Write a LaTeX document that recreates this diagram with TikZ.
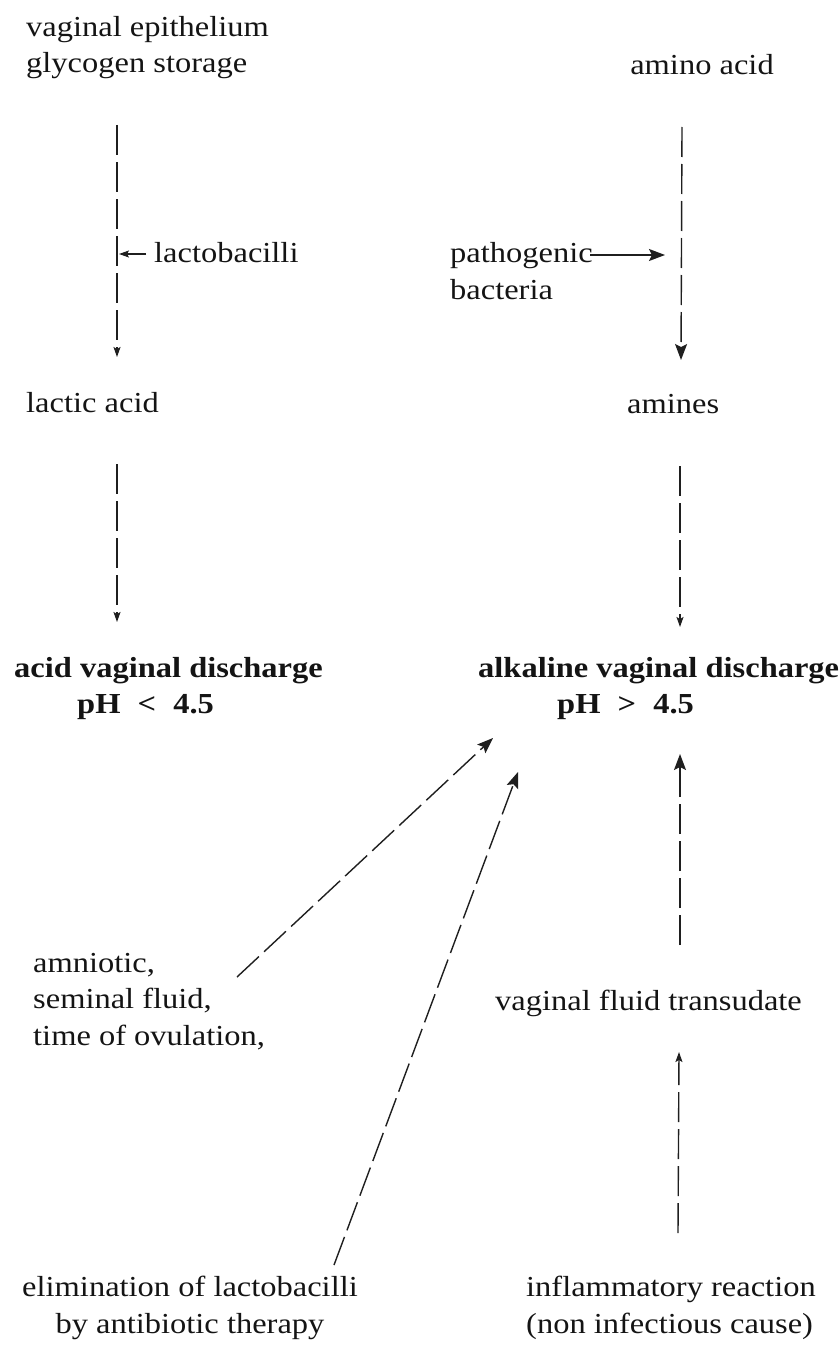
\documentclass[tikz,border=0pt]{standalone}
\usepackage{fontspec}
\setmainfont{Liberation Serif}[FakeStretch=1.12]
\usetikzlibrary{arrows.meta}
\begin{document}
\begin{tikzpicture}[x=1pt,y=-1pt,
  lbl/.style={inner sep=0pt, font=\fontsize{29}{36.5}\selectfont, text=black!92},
  bl/.style={inner sep=0pt, font=\fontsize{29}{36.5}\selectfont\bfseries, text=black!92},
  flow/.style={line width=1.4pt, draw=black!88, dash pattern=on 30pt off 7pt},
  bighead/.style={-{Stealth[length=16pt,width=12pt,inset=3pt]}},
  smallhead/.style={-{Stealth[length=10pt,width=7pt,inset=2pt]}},
  solidarrow/.style={line width=1.4pt, draw=black!88}
]
\useasboundingbox (0,0) rectangle (840,1362);

% text nodes (multi-line nodes are anchored at the baseline of their last line)
\node[lbl, anchor=base west, align=left] (ve) at (26,73) {vaginal epithelium\\glycogen storage};
\node[lbl, anchor=base] (aa) at (702,75) {amino acid};
\node[lbl, anchor=base west] (lacto) at (154,262) {lactobacilli};
\node[lbl, anchor=base west, align=left] (patho) at (450,299) {pathogenic\\bacteria};
\node[lbl, anchor=base west] (la) at (26,412) {lactic acid};
\node[lbl, anchor=base west] (am) at (627,413) {amines};
\node[bl, anchor=base west] (acid) at (14,677) {acid vaginal discharge};
\node[bl, anchor=base west] (acidph) at (77,713) {pH\hspace{9pt} < \hspace{9pt}4.5};
\node[bl, anchor=base west] (alk) at (478,677) {alkaline vaginal discharge};
\node[bl, anchor=base west] (alkph) at (557,713) {pH\hspace{9pt} > \hspace{9pt}4.5};
\node[lbl, anchor=base west, align=left] (amn) at (33,1045) {amniotic,\\seminal fluid,\\time of ovulation,};
\node[lbl, anchor=base west] (vft) at (495,1010) {vaginal fluid transudate};
\node[lbl, anchor=base, align=center] (elim) at (190,1333) {elimination of lactobacilli\\by antibiotic therapy};
\node[lbl, anchor=base west, align=left] (infl) at (526,1333) {inflammatory reaction\\(non infectious cause)};

% connector end points
\coordinate (veS) at (117,125);   \coordinate (laN) at (117,357);
\coordinate (lactoW) at (146,254); \coordinate (lactoT) at (119,254);
\coordinate (aaS) at (682,127);   \coordinate (amN) at (681,360);
\coordinate (pathoE) at (590,255); \coordinate (pathoT) at (665,255);
\coordinate (laS) at (117,464);   \coordinate (acidN) at (117,622);
\coordinate (amS) at (680,466);   \coordinate (alkN) at (680,627);
\coordinate (amnE) at (237,977);  \coordinate (alkA) at (493,738);
\coordinate (elimN) at (334,1265); \coordinate (alkB) at (518,772);
\coordinate (vftN) at (680,945);  \coordinate (alkC) at (680,754);
\coordinate (inflN) at (678,1233); \coordinate (vftS) at (679,1052);

% connectors
\draw[flow, smallhead] (veS) -- (laN);
\draw[solidarrow, smallhead] (lactoW) -- (lactoT);
\draw[flow, bighead] (aaS) -- (amN);
\draw[solidarrow, bighead] (pathoE) -- (pathoT);
\draw[flow, smallhead] (laS) -- (acidN);
\draw[flow, smallhead] (amS) -- (alkN);
\draw[flow, bighead] (amnE) -- (alkA);
\draw[flow, bighead] (elimN) -- (alkB);
\draw[flow, bighead] (vftN) -- (alkC);
\draw[flow, smallhead] (inflN) -- (vftS);
\end{tikzpicture}
\end{document}
